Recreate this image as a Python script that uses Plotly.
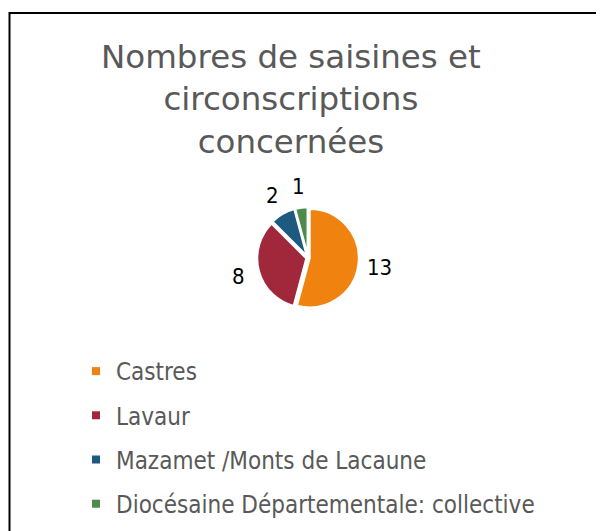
import math
import plotly.graph_objects as go

labels = ["Castres", "Lavaur", "Mazamet /Monts de Lacaune", "Diocésaine Départementale: collective"]
values = [13, 8, 2, 1]
colors = ["#F0820F", "#A0283A", "#1D5A80", "#4E8A4A"]
title = "Nombres de saisines et<br>circonscriptions<br>concernées"

W, H = 604, 531
OFF = 8  # page body margin
FONT = "DejaVu Sans"
FONT_C = "DejaVu Sans Condensed"

fig = go.Figure()

cx, cy, r = 308 - OFF, 258 - OFF, 51
pull = 0.03
fig.add_trace(go.Pie(
    labels=labels, values=values, sort=False, direction="clockwise", rotation=0,
    marker=dict(colors=colors, line=dict(color="white", width=2.5)),
    pull=[pull] * len(values),
    textinfo="none",
    domain=dict(x=[(cx - r) / W, (cx + r) / W], y=[(H - cy - r) / H, (H - cy + r) / H]),
    showlegend=False, hoverinfo="label+value",
))

# value labels outside each slice, placed at the slice's mid-angle
total = sum(values)
label_r = 72
cum = 0
annotations = []
for v in values:
    mid = (cum + v / 2) / total * 2 * math.pi
    cum += v
    px = cx + label_r * math.sin(mid)
    py = cy - label_r * math.cos(mid)
    annotations.append(dict(
        x=px / W, y=1 - py / H, xref="paper", yref="paper", text=str(v),
        showarrow=False, xanchor="center", yanchor="middle",
        font=dict(family=FONT_C, size=22, color="black"),
    ))

annotations.append(dict(
    x=(291 - OFF) / W, y=1 - 28 / H, xref="paper", yref="paper", text=title,
    showarrow=False, xanchor="center", yanchor="top", align="center",
    font=dict(family=FONT, size=32.5, color="#595959"),
))

for i, (lab, col) in enumerate(zip(labels, colors)):
    fig.add_trace(go.Scatter(
        x=[None], y=[None], mode="markers", name=lab, legendgroup=f"g{i}",
        marker=dict(symbol="square", size=8, color=col),
    ))

fig.update_layout(
    width=W, height=H,
    margin=dict(l=0, r=0, t=0, b=0),
    paper_bgcolor="white", plot_bgcolor="white",
    xaxis=dict(visible=False), yaxis=dict(visible=False),
    annotations=annotations,
    legend=dict(x=68 / W, xanchor="left", y=1 - 341 / H, yanchor="top",
                font=dict(family=FONT_C, size=24, color="#595959"),
                tracegroupgap=10, itemwidth=30, bgcolor="rgba(0,0,0,0)"),
    shapes=[dict(type="rect", xref="paper", yref="paper",
                 x0=(9.5 - OFF) / W, x1=1.05, y0=-0.05, y1=1 - (13 - OFF) / H,
                 line=dict(color="black", width=2), fillcolor="rgba(0,0,0,0)")],
)

fig.write_html("out.html")
